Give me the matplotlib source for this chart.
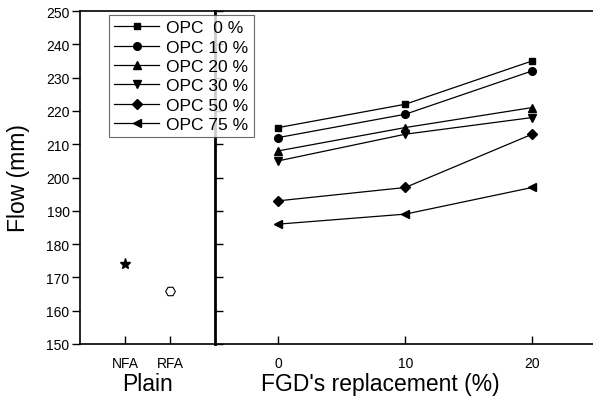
import matplotlib.pyplot as plt

plt.rcParams['font.family'] = ['Liberation Sans', 'DejaVu Sans']

# plain mixes
plain_labels = ['NFA', 'RFA']
plain_flow = [174, 166]

# FGD replacement series
fgd = [0, 10, 20]
series_names = ['OPC  0 %', 'OPC 10 %', 'OPC 20 %', 'OPC 30 %', 'OPC 50 %', 'OPC 75 %']
flow_opc0 = [215, 222, 235]
flow_opc10 = [212, 219, 232]
flow_opc20 = [208, 215, 221]
flow_opc30 = [205, 213, 218]
flow_opc50 = [193, 197, 213]
flow_opc75 = [186, 189, 197]
all_flows = [flow_opc0, flow_opc10, flow_opc20, flow_opc30, flow_opc50, flow_opc75]
markers = ['s', 'o', '^', 'v', 'D', '<']
msizes = [5, 5.5, 6, 6, 5, 6]

W, H = 593, 402
fig = plt.figure(figsize=(W / 100, H / 100), dpi=100)
ax1 = fig.add_axes([80 / W, 57 / H, 135 / W, 333 / H])
ax2 = fig.add_axes([215 / W, 57 / H, 378 / W, 333 / H])

tick_fs = 10
label_fs = 16.5

# left panel
ax1.plot([1], [plain_flow[0]], marker='*', color='black', markersize=8, linestyle='none')
ax1.plot([2], [plain_flow[1]], marker='H', markerfacecolor='white', markeredgecolor='black',
         markersize=7, markeredgewidth=0.8, linestyle='none')
ax1.set_xlim(0, 3)
ax1.set_ylim(150, 250)
ax1.set_xticks([1, 2])
ax1.set_xticklabels(plain_labels)
ax1.set_yticks(range(150, 251, 10))
ax1.tick_params(axis='y', direction='out', length=6, width=1, labelsize=tick_fs, pad=1.5)
ax1.tick_params(axis='x', direction='in', length=6, width=1, labelsize=tick_fs, pad=9)
ax1.set_xlabel('Plain', fontsize=label_fs)
ax1.xaxis.set_label_coords(0.5, -0.085)
ax1.set_ylabel('Flow (mm)', fontsize=label_fs)
ax1.yaxis.set_label_coords(-0.37, 0.5)
ax1.spines['right'].set_visible(False)
for s in ['left', 'bottom', 'top']:
    ax1.spines[s].set_linewidth(1.2)

# right panel
handles = []
for name, vals, m, ms in zip(series_names, all_flows, markers, msizes):
    h, = ax2.plot(fgd, vals, marker=m, color='black', linewidth=0.9, markersize=ms, label=name)
    handles.append(h)
ax2.set_xlim(-5, 24.8)
ax2.set_ylim(150, 250)
ax2.set_xticks(fgd)
ax2.set_yticks(range(150, 251, 10))
ax2.set_yticklabels([])
ax2.tick_params(axis='y', direction='in', length=6, width=1)
ax2.tick_params(axis='x', direction='in', length=6, width=1, labelsize=tick_fs, pad=9)
ax2.set_xlabel("FGD's replacement (%)", fontsize=label_fs)
ax2.xaxis.set_label_coords(0.438, -0.085)
ax2.spines['right'].set_visible(False)
ax2.spines['left'].set_linewidth(2)
for s in ['bottom', 'top']:
    ax2.spines[s].set_linewidth(1.2)

leg = fig.legend(handles=handles, loc='upper left', bbox_to_anchor=(109 / W, 1 - 16 / H),
                 fontsize=12.5, frameon=True, fancybox=False, edgecolor='#444444',
                 handlelength=2.6, handletextpad=0.4, labelspacing=0.24,
                 borderpad=0.3, borderaxespad=0)
leg.get_frame().set_linewidth(0.8)
leg.set_zorder(10)

fig.savefig('out.png', dpi=100)
